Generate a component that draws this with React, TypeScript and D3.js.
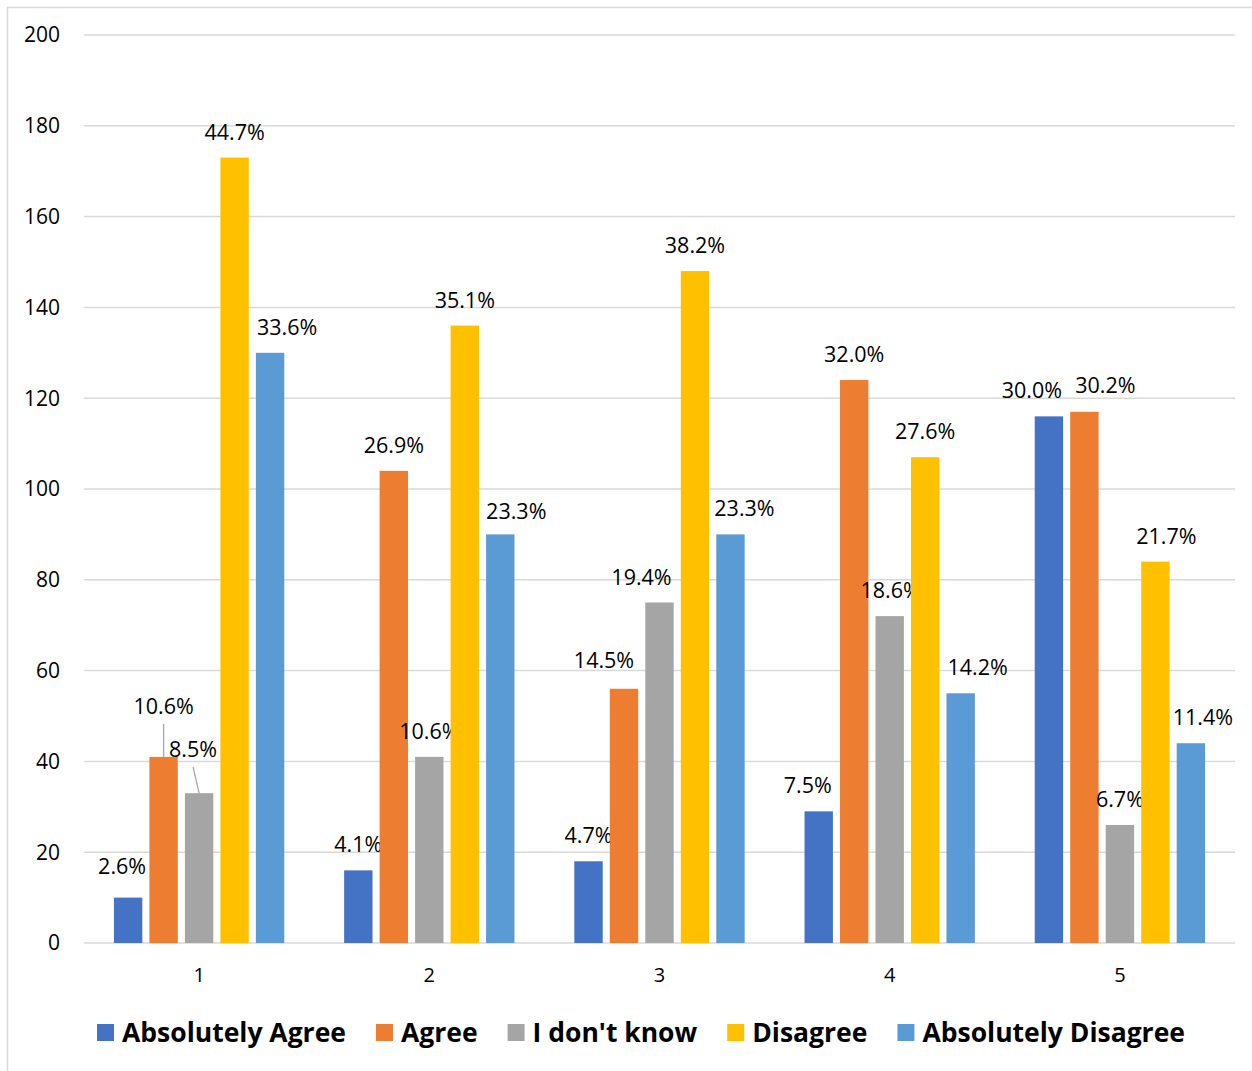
import React, { useEffect, useRef } from "react";
import * as d3 from "d3";

// Survey responses per statement (counts of respondents)
const statements = ["1", "2", "3", "4", "5"];
const seriesNames = ["Absolutely Agree", "Agree", "I don't know", "Disagree", "Absolutely Disagree"];
const absolutelyAgree = [10, 16, 18, 29, 116];
const agree = [41, 104, 56, 124, 117];
const dontKnow = [33, 41, 75, 72, 26];
const disagree = [173, 136, 148, 107, 84];
const absolutelyDisagree = [130, 90, 90, 55, 44];
const yTicks = [0, 20, 40, 60, 80, 100, 120, 140, 160, 180, 200];
const colors = ["#4472C4", "#ED7D31", "#A5A5A5", "#FFC000", "#5B9BD5"];

// Manual label nudges [dx, dy, leader] per statement x series (hand-placed labels)
const labelNudges: [number, number, number][][] = [
  [[-6, -6, 0], [0, -25, 1], [-6, -18, 1], [0, 0, 0], [17, 0, 0]],
  [[0, 0, 0], [0, 0, 0], [0, 0, 0], [0, 0, 0], [16, 3, 0]],
  [[0, 0, 0], [-20, -3, 0], [-18, 0, 0], [0, 0, 0], [14, 0, 0]],
  [[-11, 0, 0], [0, 0, 0], [1, 0, 0], [0, 0, 0], [17, 0, 0]],
  [[-17, 0, 0], [21, -1, 0], [0, 0, 0], [11, 0, 0], [12, 0, 0]],
];

const W = 1252;
const H = 1071;
const FONT = "'Open Sans', sans-serif";

export default function App() {
  const ref = useRef<SVGSVGElement | null>(null);

  useEffect(() => {
    const svg = d3.select(ref.current);
    svg.selectAll("*").remove();

    const series = [absolutelyAgree, agree, dontKnow, disagree, absolutelyDisagree];
    const left = 84;
    const right = 1235;
    const top = 35;
    const bottom = 943;

    svg.append("rect").attr("width", W).attr("height", H).attr("fill", "#fff");
    svg.append("rect")
      .attr("x", 7.5).attr("y", 7.5).attr("width", W).attr("height", H)
      .attr("fill", "none").attr("stroke", "#d9d9d9").attr("stroke-width", 1.5);

    const y = d3.scaleLinear().domain([0, 200]).range([bottom, top]);
    const x0 = d3.scaleBand<string>().domain(statements).range([left, right]).paddingInner(0.26).paddingOuter(0.13);
    const x1 = d3.scaleBand<number>().domain(d3.range(seriesNames.length)).range([0, x0.bandwidth()]).paddingInner(0.2);

    // gridlines and y tick labels
    const grid = svg.append("g");
    yTicks.forEach((t) => {
      grid.append("line")
        .attr("x1", left).attr("x2", right).attr("y1", y(t)).attr("y2", y(t))
        .attr("stroke", "#d9d9d9").attr("stroke-width", 1.5);
      grid.append("text")
        .attr("x", 60).attr("y", y(t)).attr("dy", "0.35em")
        .attr("text-anchor", "end").attr("font-family", FONT).attr("font-size", 21)
        .attr("fill", "#000").text(t);
    });

    // bars
    statements.forEach((s, i) => {
      const totals = d3.sum(series, (arr) => arr[i]);
      series.forEach((arr, j) => {
        const v = arr[i];
        const bx = (x0(s) as number) + (x1(j) as number);
        const bw = x1.bandwidth();
        svg.append("rect")
          .attr("x", bx).attr("y", y(v)).attr("width", bw).attr("height", y(0) - y(v))
          .attr("fill", colors[j]);
        const [dx, dy, leader] = labelNudges[i][j];
        const cx = bx + bw / 2 + dx;
        const ty = y(v) - 18 + dy;
        if (leader) {
          // leader line from the moved label down to the bar
          svg.append("line")
            .attr("x1", cx).attr("y1", ty + 10)
            .attr("x2", bx + bw / 2).attr("y2", y(v))
            .attr("stroke", "#a6a6a6").attr("stroke-width", 1.3);
        }
        svg.append("text")
          .attr("x", cx).attr("y", ty)
          .attr("text-anchor", "middle").attr("font-family", FONT).attr("font-size", 21.5)
          .attr("fill", "#000")
          .text(d3.format(".1%")(v / totals));
      });
      svg.append("text")
        .attr("x", (x0(s) as number) + x0.bandwidth() / 2).attr("y", 975).attr("dy", "0.35em")
        .attr("text-anchor", "middle").attr("font-family", FONT).attr("font-size", 20)
        .attr("fill", "#000").text(s);
    });

    // legend, centered under the plot
    const legend = svg.append("g");
    const sq = 17;
    const gapIn = 8;
    const gapOut = 30;
    const items = seriesNames.map((name, j) => {
      const t = legend.append("text")
        .attr("font-family", FONT).attr("font-size", 26.5).attr("font-weight", 700)
        .attr("fill", "#000").attr("y", 1042).text(name);
      return { t, w: (t.node() as SVGTextElement).getComputedTextLength(), j };
    });
    const total = d3.sum(items, (d) => sq + gapIn + d.w) + gapOut * (items.length - 1);
    let cx = 641 - total / 2;
    items.forEach((d) => {
      legend.append("rect")
        .attr("x", cx).attr("y", 1024).attr("width", sq).attr("height", sq)
        .attr("fill", colors[d.j]);
      d.t.attr("x", cx + sq + gapIn);
      cx += sq + gapIn + d.w + gapOut;
    });
  }, []);

  return (
    <svg
      ref={ref}
      width={W}
      height={H}
      style={{ position: "absolute", left: 0, top: 0, display: "block" }}
    />
  );
}
